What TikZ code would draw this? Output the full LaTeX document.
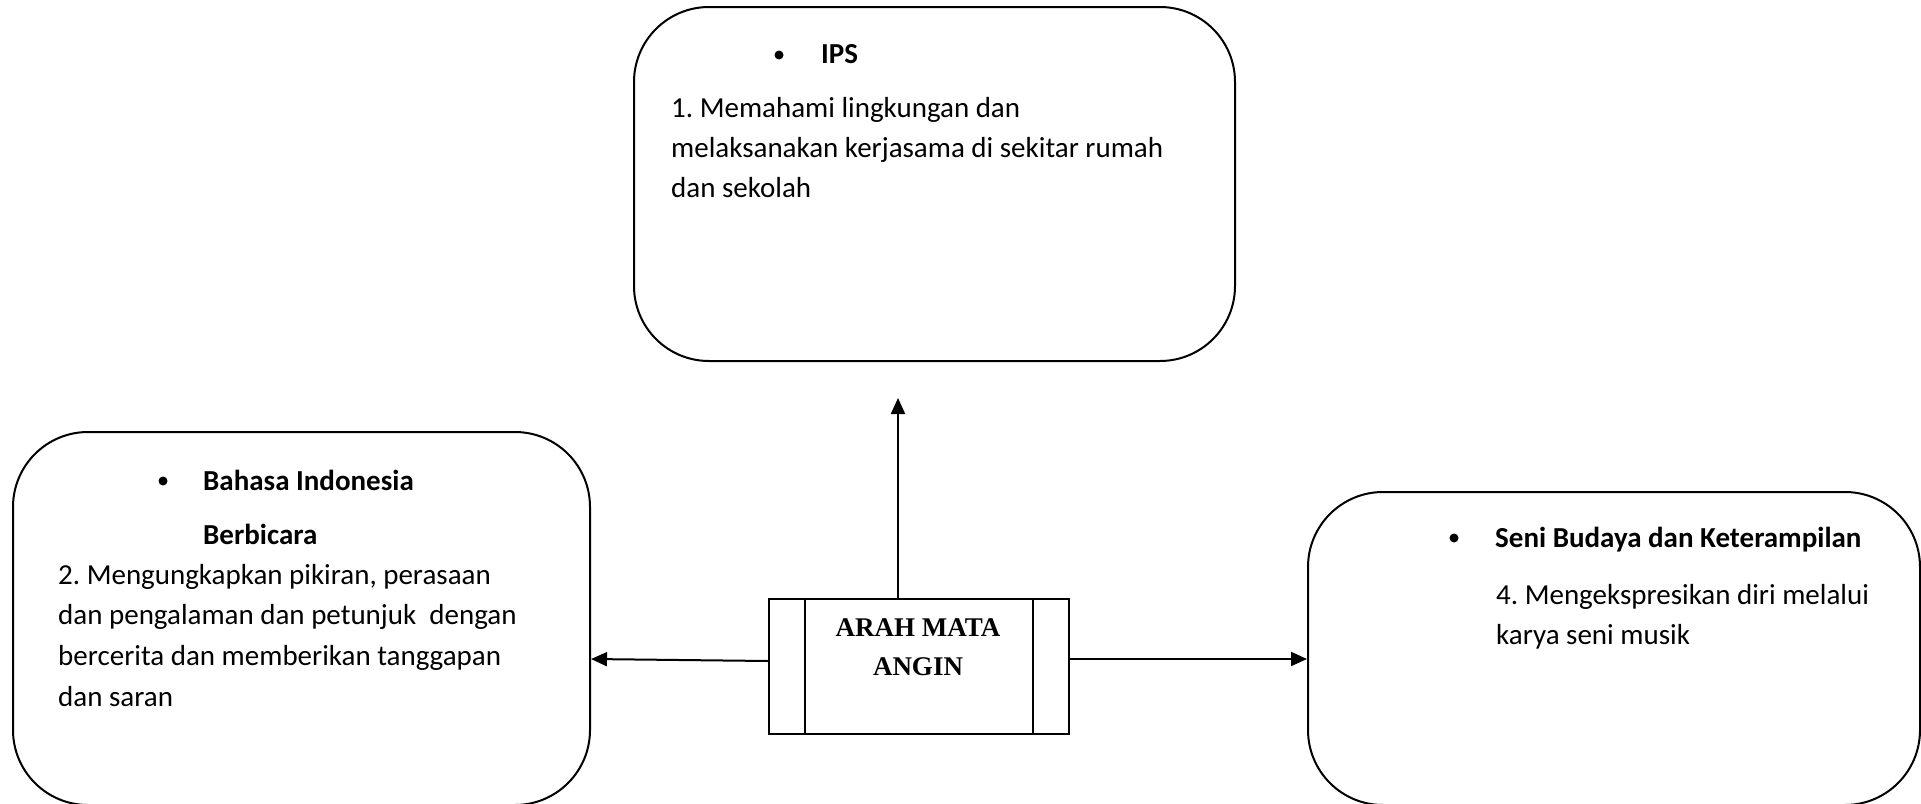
\documentclass[tikz,border=0pt]{standalone}
\usepackage{fontspec}
\setmainfont{Carlito}
\newfontfamily\ctrfont{Liberation Serif}
\usetikzlibrary{arrows.meta}
\frenchspacing
\begin{document}
\begin{tikzpicture}[x=1pt,y=-1pt,
  rbox/.style={draw,line width=2pt,rounded corners=75pt,anchor=north west,inner sep=0pt},
  txt/.style={anchor=base west,inner sep=0pt,font=\fontsize{29}{39}\selectfont},
  btxt/.style={anchor=base west,inner sep=0pt,font=\fontsize{29}{39}\selectfont\bfseries},
  bul/.style={circle,fill,inner sep=0pt,minimum size=9pt},
  arr/.style={line width=2pt,-{Triangle[length=16pt,width=14pt]}},
  ctxt/.style={anchor=base,inner sep=0pt,font=\ctrfont\bfseries\fontsize{27}{37}\selectfont}
  ]
\useasboundingbox (0,0) rectangle (1921,803);
% boxes
\node[rbox,minimum width=601pt,minimum height=354pt] (ips) at (633,6) {};
\node[rbox,minimum width=577pt,minimum height=373pt] (bi) at (12,431) {};
\node[rbox,minimum width=612pt,minimum height=313pt] (sbk) at (1307,491) {};
\node[draw,line width=2pt,anchor=north west,minimum width=300pt,minimum height=135pt,inner sep=0pt] (c) at (768,598) {};
\draw[line width=2pt] ([xshift=37pt]c.north west) -- ([xshift=37pt]c.south west);
\draw[line width=2pt] ([xshift=-37pt]c.north east) -- ([xshift=-37pt]c.south east);
% centre text
\node[ctxt] (ct1) at (918,636) {ARAH MATA};
\node[ctxt] (ct2) at (918,675) {ANGIN};
% IPS
\node[bul] (b1) at (779,55) {};
\node[btxt] (h1) at (821,63) {IPS};
\node[txt] (t11) at (671,117) {1. Memahami lingkungan dan};
\node[txt] (t12) at (671,157) {melaksanakan kerjasama di sekitar rumah};
\node[txt] (t13) at (671,197) {dan sekolah};
% Bahasa Indonesia
\node[bul] (b2) at (163,481) {};
\node[btxt] (h2) at (203,490) {Bahasa Indonesia};
\node[btxt] (h2b) at (203,544) {Berbicara};
\node[txt] (t21) at (58,584) {2. Mengungkapkan pikiran, perasaan};
\node[txt] (t22) at (58,624) {dan pengalaman dan petunjuk\ \ dengan};
\node[txt] (t23) at (58,665) {bercerita dan memberikan tanggapan};
\node[txt] (t24) at (58,706) {dan saran};
% SBK
\node[bul] (b3) at (1454,538) {};
\node[btxt] (h3) at (1495,547) {Seni Budaya dan Keterampilan};
\node[txt] (t31) at (1496,604) {4. Mengekspresikan diri melalui};
\node[txt] (t32) at (1496,644) {karya seni musik};
% arrows
\coordinate (uptip) at (898,398);
\draw[arr] (c.north -| uptip) -- (uptip);
\draw[arr] (c.west |- 0,661) -- (bi.east |- 0,659);
\draw[arr] (c.east |- 0,659) -- (sbk.west |- 0,659);
\end{tikzpicture}
\end{document}
